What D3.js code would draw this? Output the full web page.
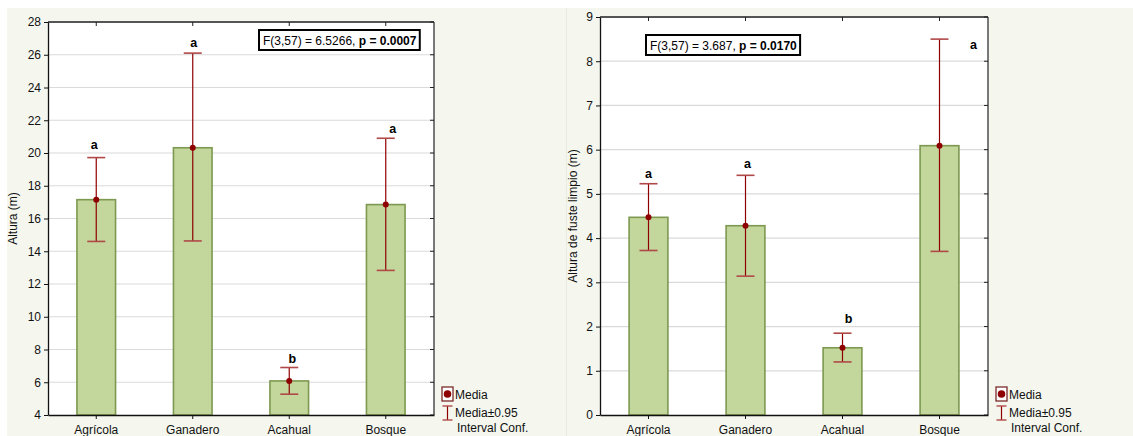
<!DOCTYPE html>
<html>
<head>
<meta charset="utf-8">
<script src="https://cdn.jsdelivr.net/npm/d3@7"></script>
<style>
  html, body { margin: 0; padding: 0; background: #ffffff; }
  svg { display: block; font-family: "Liberation Sans", Arial, sans-serif; }
</style>
</head>
<body>
<svg id="chart" width="1133" height="436"></svg>
<script>
// ---------- data ----------
const categories = ["Agrícola", "Ganadero", "Acahual", "Bosque"];

// Left panel: Altura (m)
const alturaMean  = [17.15, 20.32, 6.08, 16.85];
const alturaLower = [14.6, 14.63, 5.27, 12.83];
const alturaUpper = [19.72, 26.1, 6.9, 20.9];
const alturaLetters = ["a", "a", "b", "a"];
const alturaTicks = [4, 6, 8, 10, 12, 14, 16, 18, 20, 22, 24, 26, 28];
const alturaStat = ["F(3,57) = 6.5266, ", "p = 0.0007"];

// Right panel: Altura de fuste limpio (m)
const fusteMean  = [4.47, 4.28, 1.52, 6.09];
const fusteLower = [3.72, 3.14, 1.2, 3.7];
const fusteUpper = [5.23, 5.42, 1.85, 8.5];
const fusteLetters = ["a", "a", "b", "a"];
const fusteTicks = [0, 1, 2, 3, 4, 5, 6, 7, 8, 9];
const fusteStat = ["F(3,57) = 3.687, ", "p = 0.0170"];

const legendLabels = ["Media", "Media±0.95", "Interval Conf."];

// ---------- drawing ----------
const svg = d3.select("#chart");
const BG = "#f5f7ef";
const BAR_FILL = "#c3d69b";
const BAR_STROKE = "#7d9850";
const RED = "#8e0000";
const CAP = "#b04848";
const FS = 12;

function panel(opts) {
  const g = svg.append("g");
  g.append("rect").attr("x", opts.px).attr("y", 8).attr("width", opts.pw).attr("height", 428)
    .attr("fill", BG);

  const x = d3.scaleBand().domain(categories).range([opts.left, opts.right]).paddingInner(0).paddingOuter(0);
  const y = d3.scaleLinear().domain(opts.domain).range([opts.bottom, opts.top]);
  const bw = x.bandwidth() * 0.4;
  const cx = c => x(c) + x.bandwidth() / 2;

  g.append("rect").attr("x", opts.left).attr("y", opts.top)
    .attr("width", opts.right - opts.left).attr("height", opts.bottom - opts.top).attr("fill", "#ffffff");

  g.append("g").selectAll("line").data(opts.ticks.filter(t => t !== opts.domain[0] && t !== opts.domain[1]))
    .join("line")
    .attr("x1", opts.left).attr("x2", opts.right)
    .attr("y1", d => y(d)).attr("y2", d => y(d))
    .attr("stroke", "#dadada").attr("stroke-width", 1.2);

  g.append("g").selectAll("rect").data(categories).join("rect")
    .attr("x", c => cx(c) - bw / 2)
    .attr("y", (c, i) => y(opts.mean[i]))
    .attr("width", bw)
    .attr("height", (c, i) => y(opts.domain[0]) - y(opts.mean[i]))
    .attr("fill", BAR_FILL).attr("stroke", BAR_STROKE).attr("stroke-width", 1.6);

  const eb = g.append("g");
  eb.selectAll("line.v").data(categories).join("line").attr("class", "v")
    .attr("x1", cx).attr("x2", cx)
    .attr("y1", (c, i) => y(opts.lower[i])).attr("y2", (c, i) => y(opts.upper[i]))
    .attr("stroke", RED).attr("stroke-width", 1.2);
  [opts.lower, opts.upper].forEach(arr => {
    eb.append("g").selectAll("line").data(categories).join("line")
      .attr("x1", c => cx(c) - 9).attr("x2", c => cx(c) + 9)
      .attr("y1", (c, i) => y(arr[i])).attr("y2", (c, i) => y(arr[i]))
      .attr("stroke", CAP).attr("stroke-width", 1.6);
  });
  eb.selectAll("circle").data(categories).join("circle")
    .attr("cx", cx).attr("cy", (c, i) => y(opts.mean[i])).attr("r", 3)
    .attr("fill", RED);

  g.append("g").selectAll("text").data(categories).join("text")
    .attr("x", (c, i) => cx(c) + opts.letterDx[i])
    .attr("y", (c, i) => y(opts.upper[i]) + opts.letterDy[i])
    .attr("text-anchor", "middle")
    .attr("font-size", 12.5).attr("font-weight", "bold").attr("fill", "#000")
    .text((c, i) => opts.letters[i]);

  const fr = g.append("g").attr("fill", "none");
  fr.append("line").attr("x1", opts.left).attr("x2", opts.right).attr("y1", opts.top).attr("y2", opts.top)
    .attr("stroke", "#555").attr("stroke-width", 2);
  fr.append("line").attr("x1", opts.right).attr("x2", opts.right).attr("y1", opts.top).attr("y2", opts.bottom)
    .attr("stroke", "#222").attr("stroke-width", 1.2);
  fr.append("g").selectAll("line").data(categories).join("line")
    .attr("x1", cx).attr("x2", cx).attr("y1", opts.top).attr("y2", opts.top + 4)
    .attr("stroke", "#222");
  fr.append("g").selectAll("line").data(opts.ticks).join("line")
    .attr("x1", opts.right).attr("x2", opts.right - 4).attr("y1", d => y(d)).attr("y2", d => y(d))
    .attr("stroke", "#222");

  const yAxis = d3.axisLeft(y).tickValues(opts.ticks).tickSize(4).tickPadding(3).tickSizeOuter(0);
  const ya = g.append("g").attr("transform", `translate(${opts.left},0)`).call(yAxis);
  const xAxis = d3.axisBottom(x).tickSize(4).tickPadding(4).tickSizeOuter(0);
  const xa = g.append("g").attr("transform", `translate(0,${opts.bottom})`).call(xAxis);
  [ya, xa].forEach(a => {
    a.selectAll("path").attr("stroke", "#111").attr("stroke-width", 1.3);
    a.selectAll("line").attr("stroke", "#111");
    a.selectAll("text").attr("font-size", FS).attr("fill", "#111")
      .attr("font-family", "'Liberation Sans', Arial, sans-serif");
  });
  xa.selectAll("text").attr("dy", "0.9em");

  g.append("text")
    .attr("transform", `translate(${opts.titleX},${(opts.top + opts.bottom) / 2}) rotate(-90)`)
    .attr("text-anchor", "middle").attr("font-size", FS).attr("fill", "#111")
    .text(opts.title);

  const sb = g.append("g");
  const st = sb.append("text").attr("x", opts.statX + 4).attr("y", opts.statY + 15)
    .attr("font-size", FS).attr("fill", "#000");
  st.append("tspan").text(opts.stat[0]);
  st.append("tspan").attr("font-weight", "bold").text(opts.stat[1]);
  const bb = st.node().getBBox();
  sb.insert("rect", "text").attr("x", opts.statX).attr("y", opts.statY)
    .attr("width", bb.width + 7).attr("height", 20)
    .attr("fill", "#fff").attr("stroke", "#000").attr("stroke-width", 2);

  const lg = g.append("g").attr("transform", `translate(${opts.right + 8},0)`);
  lg.append("rect").attr("x", 0).attr("y", 387).attr("width", 11).attr("height", 14)
    .attr("fill", "#fff").attr("stroke", "#7a2a2a").attr("stroke-width", 1.3);
  lg.append("circle").attr("cx", 5.5).attr("cy", 394).attr("r", 3.8).attr("fill", RED);
  lg.append("text").attr("x", 13).attr("y", 398.5).attr("font-size", FS).attr("fill", "#111").text(legendLabels[0]);
  lg.append("line").attr("x1", 5.5).attr("x2", 5.5).attr("y1", 406).attr("y2", 420).attr("stroke", RED).attr("stroke-width", 1.2);
  lg.append("line").attr("x1", 0.5).attr("x2", 10.5).attr("y1", 406).attr("y2", 406).attr("stroke", CAP).attr("stroke-width", 1.4);
  lg.append("line").attr("x1", 0.5).attr("x2", 10.5).attr("y1", 420).attr("y2", 420).attr("stroke", CAP).attr("stroke-width", 1.4);
  lg.append("text").attr("x", 13).attr("y", 417).attr("font-size", FS).attr("fill", "#111").text(legendLabels[1]);
  lg.append("text").attr("x", 15).attr("y", 432).attr("font-size", FS).attr("fill", "#111").text(legendLabels[2]);
}

panel({
  px: 7, pw: 559,
  left: 48, right: 434, top: 22, bottom: 415,
  domain: [4, 28], ticks: alturaTicks,
  mean: alturaMean, lower: alturaLower, upper: alturaUpper,
  letters: alturaLetters, letterDx: [-2, 1, 3, 7], letterDy: [-9, -6, -5, -5],
  title: "Altura (m)", titleX: 17,
  stat: alturaStat, statX: 259, statY: 30
});

panel({
  px: 567, pw: 566,
  left: 600, right: 988, top: 17, bottom: 415,
  domain: [0, 9], ticks: fusteTicks,
  mean: fusteMean, lower: fusteLower, upper: fusteUpper,
  letters: fusteLetters, letterDx: [0, 2, 6, 34], letterDy: [-6, -7, -10, 10],
  title: "Altura de fuste limpio (m)", titleX: 577,
  stat: fusteStat, statX: 646, statY: 35
});

svg.append("line").attr("x1", 566.5).attr("x2", 566.5).attr("y1", 8).attr("y2", 436)
  .attr("stroke", "#e8ebe2").attr("stroke-width", 1);
</script>
</body>
</html>
